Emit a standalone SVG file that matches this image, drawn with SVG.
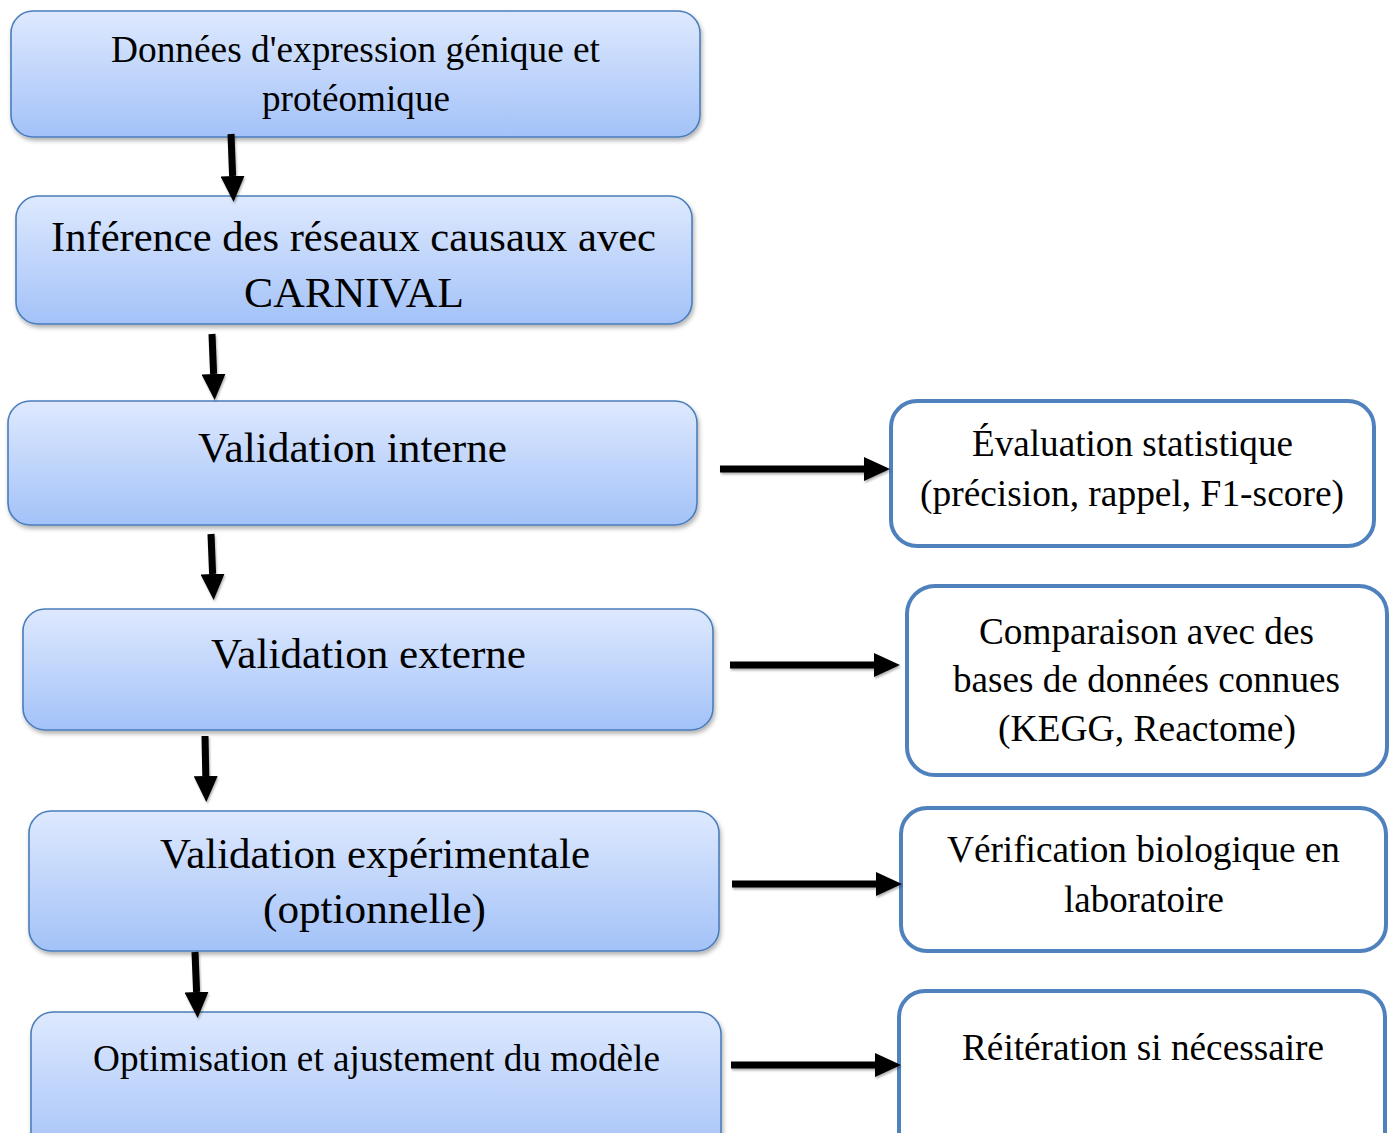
<svg xmlns="http://www.w3.org/2000/svg" width="1393" height="1133" viewBox="0 0 1393 1133">
<defs>
<linearGradient id="g" x1="0" y1="0" x2="0" y2="1">
<stop offset="0" stop-color="#DEE9FE"/>
<stop offset="1" stop-color="#A3C2F8"/>
</linearGradient>
<filter id="sh" x="-5%" y="-10%" width="110%" height="125%">
<feDropShadow dx="1.5" dy="3" stdDeviation="2" flood-color="#000" flood-opacity="0.3"/>
</filter>
<filter id="ash" filterUnits="userSpaceOnUse" x="0" y="0" width="1393" height="1133">
<feDropShadow dx="1" dy="2" stdDeviation="1.2" flood-color="#000" flood-opacity="0.3"/>
</filter>
<marker id="ah" markerUnits="userSpaceOnUse" markerWidth="26" markerHeight="24" refX="0" refY="12" orient="auto" viewBox="0 0 26 24">
<path d="M0,0 L26,12 L0,24 z" fill="#000"/>
</marker>
</defs>
<style>
.blue{fill:url(#g);stroke:#4A7EBB;stroke-width:1.6;filter:url(#sh)}
.white{fill:#fff;stroke:#4F81BD;stroke-width:4}
text{font-family:"Liberation Serif","Times New Roman",serif;fill:#000;text-anchor:middle}
.big{font-size:42px}
.mid{font-size:37px}
.arr{stroke:#000;stroke-width:7;fill:none;marker-end:url(#ah)}
</style>
<rect width="1393" height="1133" fill="#fff"/>

<g id="n1">
<rect class="blue" x="11" y="11" width="689" height="126" rx="22"/>
<text class="mid" x="355.5" y="62" textLength="489" lengthAdjust="spacingAndGlyphs">Données d'expression génique et</text>
<text class="mid" x="356" y="111" textLength="188" lengthAdjust="spacingAndGlyphs">protéomique</text>
</g>
<g id="n2">
<rect class="blue" x="16" y="196" width="676" height="128" rx="22"/>
<text class="big" x="353.5" y="251" textLength="605" lengthAdjust="spacingAndGlyphs">Inférence des réseaux causaux avec</text>
<text class="big" x="354" y="307" textLength="220" lengthAdjust="spacingAndGlyphs">CARNIVAL</text>
</g>
<g id="n3">
<rect class="blue" x="8" y="401" width="689" height="124" rx="22"/>
<text class="big" x="352.5" y="462" textLength="309" lengthAdjust="spacingAndGlyphs">Validation interne</text>
</g>
<g id="n4">
<rect class="blue" x="23" y="609" width="690" height="121" rx="22"/>
<text class="big" x="368.5" y="668" textLength="315" lengthAdjust="spacingAndGlyphs">Validation externe</text>
</g>
<g id="n5">
<rect class="blue" x="29" y="811" width="690" height="140" rx="22"/>
<text class="big" x="375" y="868" textLength="430" lengthAdjust="spacingAndGlyphs">Validation expérimentale</text>
<text class="big" x="374.5" y="923" textLength="223" lengthAdjust="spacingAndGlyphs">(optionnelle)</text>
</g>
<g id="n6">
<rect class="blue" x="31" y="1012" width="690" height="150" rx="22"/>
<text class="mid" x="376.5" y="1071" textLength="567" lengthAdjust="spacingAndGlyphs">Optimisation et ajustement du modèle</text>
</g>

<g id="r1">
<rect class="white" x="891" y="401" width="483" height="145" rx="26"/>
<text class="mid" x="1132.5" y="456" textLength="321" lengthAdjust="spacingAndGlyphs">Évaluation statistique</text>
<text class="mid" x="1132" y="506" textLength="424" lengthAdjust="spacingAndGlyphs">(précision, rappel, F1-score)</text>
</g>
<g id="r2">
<rect class="white" x="907" y="586" width="480" height="189" rx="28"/>
<text class="mid" x="1146.5" y="644" textLength="335" lengthAdjust="spacingAndGlyphs">Comparaison avec des</text>
<text class="mid" x="1146.5" y="692" textLength="387" lengthAdjust="spacingAndGlyphs">bases de données connues</text>
<text class="mid" x="1147" y="741" textLength="298" lengthAdjust="spacingAndGlyphs">(KEGG, Reactome)</text>
</g>
<g id="r3">
<rect class="white" x="901" y="808" width="485" height="143" rx="26"/>
<text class="mid" x="1143.5" y="862" textLength="393" lengthAdjust="spacingAndGlyphs">Vérification biologique en</text>
<text class="mid" x="1144" y="912" textLength="160" lengthAdjust="spacingAndGlyphs">laboratoire</text>
</g>
<g id="r4">
<rect class="white" x="899" y="991" width="486" height="170" rx="26"/>
<text class="mid" x="1143" y="1060" textLength="362" lengthAdjust="spacingAndGlyphs">Réitération si nécessaire</text>
</g>

<g id="connectors" filter="url(#ash)">
<line class="arr" x1="231" y1="134" x2="232.6" y2="176"/>
<line class="arr" x1="212" y1="334" x2="213.6" y2="374"/>
<line class="arr" x1="211" y1="534" x2="212.6" y2="574"/>
<line class="arr" x1="205" y1="736" x2="205.8" y2="776"/>
<line class="arr" x1="195" y1="952" x2="196.6" y2="992"/>
<line class="arr" x1="720" y1="469" x2="864" y2="469"/>
<line class="arr" x1="730" y1="665" x2="874" y2="665"/>
<line class="arr" x1="732" y1="884" x2="876" y2="884"/>
<line class="arr" x1="731" y1="1065" x2="875" y2="1065"/>
</g>
</svg>
